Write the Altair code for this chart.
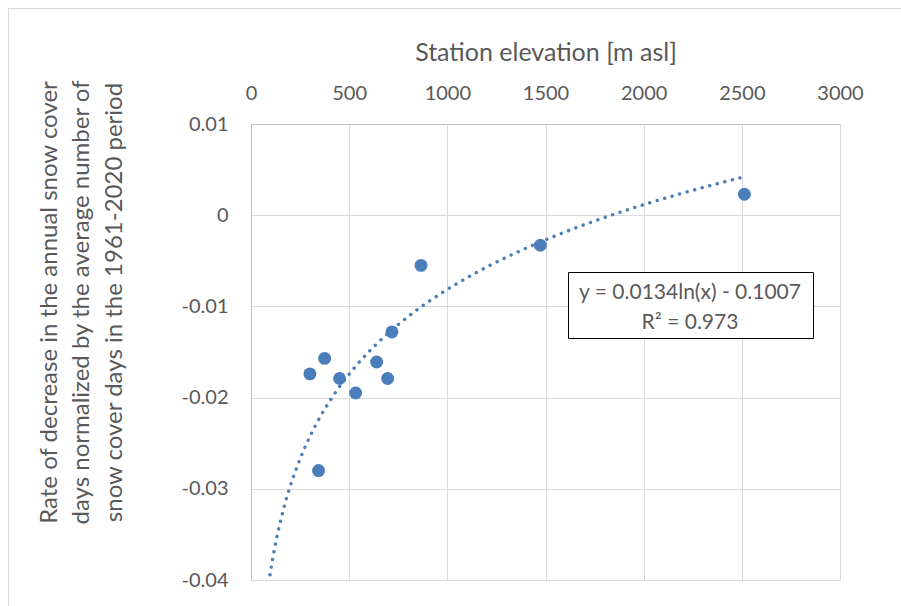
import altair as alt
import pandas as pd

# ---- data ----
elevation = [300, 344, 375, 451, 533, 640, 696, 718, 866, 1474, 2513]
rate = [-0.0174, -0.0280, -0.0157, -0.0179, -0.0195, -0.0161, -0.0179,
        -0.0128, -0.0055, -0.0033, 0.0023]

x_ticks = [0, 500, 1000, 1500, 2000, 2500, 3000]
y_ticks = [-0.04, -0.03, -0.02, -0.01, 0, 0.01]

# trendline as printed on the chart (logarithmic)
trend_slope = 0.0134
trend_intercept = -0.1007
trend_r2 = 0.973
trend_start = 80  # backward forecast, clipped at the bottom of the plot

x_title = "Station elevation [m asl]"
y_title = ["Rate of decrease in the annual snow cover",
           "days normalized by the average number of",
           "snow cover days in the 1961-2020 period"]

eq_lines = [f"y = {trend_slope}ln(x) - {abs(trend_intercept)}", f"R\u00b2 = {trend_r2}"]

# ---- styling ----
BLUE = "#4A7EBB"
TXT = "#595959"
GRID = "#D9D9D9"
AXIS = "#BFBFBF"
FONT = "Lato"

W, H = 589, 456
PAD_L, PAD_T = 251, 124
PAD_R, PAD_B = 901 - PAD_L - W, 606 - PAD_T - H

df = pd.DataFrame({"elevation": elevation, "rate": rate})
one = pd.DataFrame({"k": [0]})

x_scale = alt.Scale(domain=[0, 3000], nice=False, zero=False)
y_scale = alt.Scale(domain=[-0.04, 0.01], nice=False, zero=False)

x_axis = alt.Axis(
    orient="top", values=x_ticks, format="d", title=x_title,
    titleY=60 - PAD_T, titleBaseline="alphabetic", titleFontSize=25,
    titleFontWeight="normal", titleColor=TXT, titleFont=FONT,
    labelFontSize=20, labelColor=TXT, labelFont=FONT, labelPadding=24.5,
    labelBaseline="alphabetic", labelFlush=False, labelOverlap=False,
    ticks=False, tickSize=0, domainColor=AXIS, domainWidth=1,
    grid=True, gridColor=GRID, gridWidth=1,
)
y_axis = alt.Axis(
    values=y_ticks, labelExpr="'' + datum.value", title=y_title,
    titleAngle=270, titleX=56 - PAD_L, titleY=302 - PAD_T, titleAlign="center",
    titleBaseline="alphabetic", titleLineHeight=32.5, titleFontSize=24,
    titleFontWeight="normal", titleColor=TXT, titleFont=FONT,
    labelFontSize=20, labelColor=TXT, labelFont=FONT, labelPadding=23,
    labelBaseline="middle", labelFlush=False, labelOverlap=False,
    ticks=False, tickSize=0, domainColor=AXIS, domainWidth=1,
    grid=True, gridColor=GRID, gridWidth=1,
)

border_left = alt.Chart(one).mark_rule(color=GRID, strokeWidth=1).encode(
    x=alt.value(8.5 - PAD_L), y=alt.value(8.5 - PAD_T), y2=alt.value(606 - PAD_T)
)
border_top = alt.Chart(one).mark_rule(color=GRID, strokeWidth=1).encode(
    y=alt.value(8.5 - PAD_T), x=alt.value(8.5 - PAD_L), x2=alt.value(901 - PAD_L)
)

trend = alt.Chart(
    alt.sequence(trend_start, max(elevation) + 1, 2, as_="elevation")
).transform_calculate(
    rate=f"{trend_slope} * log(datum.elevation) + ({trend_intercept})"
).mark_line(
    clip=True, color=BLUE, strokeWidth=3.4, strokeDash=[0.1, 7.7], strokeCap="round"
).encode(
    x=alt.X("elevation:Q", scale=x_scale, axis=x_axis),
    y=alt.Y("rate:Q", scale=y_scale, axis=y_axis),
)

points = alt.Chart(df).mark_circle(size=167, opacity=1, color=BLUE).encode(
    x=alt.X("elevation:Q", scale=x_scale, axis=x_axis),
    y=alt.Y("rate:Q", scale=y_scale, axis=y_axis),
)

box = alt.Chart(one).mark_rect(fill="white", stroke="#000000", strokeWidth=1).encode(
    x=alt.value(317.5), x2=alt.value(562.5), y=alt.value(148.5), y2=alt.value(214.5)
)
eq = alt.Chart(one).mark_text(
    align="center", baseline="alphabetic", fontSize=21, color=TXT, font=FONT, lineHeight=29.7
).encode(x=alt.value(439), y=alt.value(175), text=alt.value(eq_lines))

chart = alt.layer(border_left, border_top, trend, points, box, eq).properties(
    width=W, height=H,
    padding={"left": PAD_L, "top": PAD_T, "right": PAD_R, "bottom": PAD_B},
    autosize=alt.AutoSizeParams(type="none"),
    background="white",
).configure_view(strokeWidth=0).configure(font=FONT)

chart.save("out.html", embed_options={"renderer": "svg", "actions": False})
